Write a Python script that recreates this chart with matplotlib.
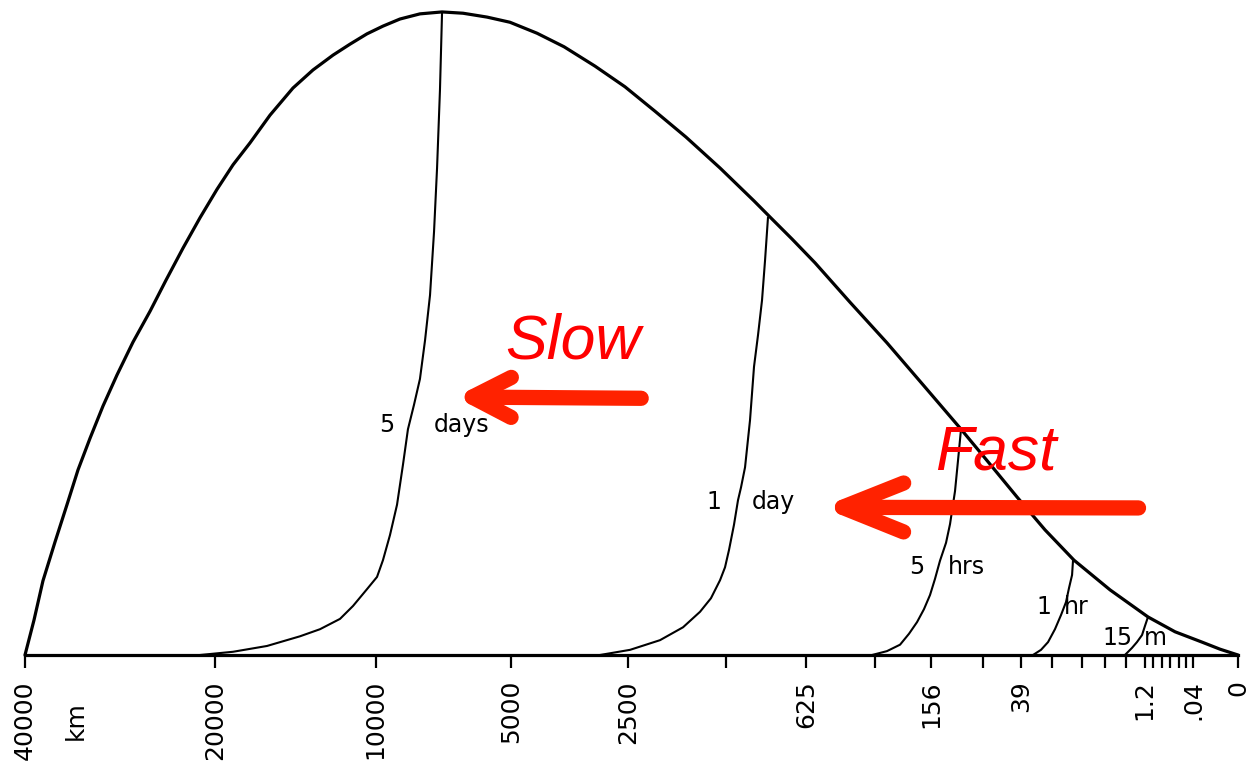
import matplotlib
matplotlib.use("Agg")
import matplotlib.pyplot as plt

# horizontal axis: position along the halving scale (0 = 40000 km, 100 = 0 km)
tick_pos = [0, 15.7, 28.9, 40.1, 49.7, 57.8, 64.4, 70.1, 74.7, 79.0, 82.1, 84.7,
            87.1, 89.0, 90.8, 92.3, 93.0, 93.7, 94.4, 95.1, 95.7, 96.3, 100]
tick_lbl = ['40000', '20000', '10000', '5000', '2500', '', '625', '', '156', '', '39', '',
            '', '', '', '1.2', '', '', '', '', '', '.04', '0']

# total spectrum envelope
env_x = [0, 0.74, 1.48, 2.47, 3.46, 4.37, 5.36, 6.43, 7.58, 8.90, 10.31, 11.62, 13.03,
         14.43, 15.83, 17.15, 18.55, 20.20, 22.09, 23.74, 25.39, 26.79, 28.19, 29.51,
         30.91, 32.56, 34.38, 36.11, 38.09, 39.98, 42.21, 44.44, 46.99, 49.46, 51.94,
         54.49, 57.30, 60.10, 61.42, 63.23, 65.13, 68.01, 71.06, 74.03, 77.08, 79.55,
         81.78, 84.09, 86.48, 89.45, 92.58, 94.81, 97.03, 98.52, 100]
env_y = [0, 5.4, 11.5, 17.5, 23.3, 28.7, 33.6, 38.6, 43.4, 48.5, 53.3, 58.1, 63.1,
         67.8, 72.2, 76.0, 79.4, 83.7, 87.9, 90.7, 93.0, 94.7, 96.3, 97.5,
         98.6, 99.4, 99.7, 99.5, 98.9, 98.1, 96.4, 94.3, 91.3, 88.1, 84.3,
         80.3, 75.5, 70.4, 67.9, 64.5, 60.8, 54.7, 48.4, 41.9, 35.2, 29.6,
         24.5, 19.4, 14.7, 10.1, 5.9, 3.6, 2.0, 0.9, 0]

# error spectrum after each lead time
days5_x = [34.38, 34.21, 33.97, 33.72, 33.39, 32.98, 32.56, 32.07, 31.57, 31.16, 30.67,
           30.09, 29.51, 29.02, 28.19, 27.04, 25.97, 24.32, 22.67, 19.95, 17.15, 14.43]
days5_y = [99.5, 87.6, 75.5, 65.6, 55.8, 48.8, 42.8, 38.8, 35.0, 29.5, 23.3,
           18.6, 14.7, 12.1, 10.2, 7.6, 5.6, 4.0, 2.9, 1.4, 0.5, 0]
day1_x = [61.25, 61.01, 60.76, 60.43, 60.10, 59.77, 59.36, 59.03, 58.78, 58.45, 58.04,
          57.71, 57.30, 56.55, 55.65, 54.25, 52.35, 49.88, 47.40]
day1_y = [67.8, 61.2, 55.0, 49.6, 44.7, 36.4, 29.1, 26.0, 24.0, 20.2, 16.3,
          13.6, 11.6, 8.8, 6.7, 4.3, 2.3, 0.8, 0]
hrs5_x = [77.16, 76.92, 76.67, 76.26, 75.93, 75.43, 75.02, 74.61, 74.11, 73.54, 72.88,
          72.14, 71.06, 69.83]
hrs5_y = [34.9, 30.2, 25.4, 20.3, 17.4, 14.6, 11.8, 9.3, 7.1, 5.1, 3.3, 1.6, 0.6, 0]
hr1_x = [86.40, 86.32, 86.07, 85.82, 85.41, 84.91, 84.34, 83.76, 83.10]
hr1_y = [14.7, 12.4, 10.4, 8.2, 6.2, 4.0, 2.0, 0.8, 0]
min15_x = [92.58, 92.33, 92.09, 91.67, 91.26, 90.68]
min15_y = [5.9, 4.5, 3.1, 2.0, 1.1, 0]

# curve labels: (left part, right part, x left, x right, y)
curve_labels = [('5', 'days', 29.8, 36.0, 35.7),
                ('1', 'day', 56.8, 61.7, 23.7),
                ('5', 'hrs', 73.5, 77.6, 13.6),
                ('1', 'hr', 84.0, 86.7, 7.4),
                ('15', 'm', 90.1, 93.2, 2.7)]

fig = plt.figure(figsize=(12.49, 7.78), dpi=100)
ax = fig.add_axes([25 / 1249, 123 / 778, 1213 / 1249, 645 / 778])

ax.plot(env_x, env_y, color='black', lw=2.3, clip_on=False,
        solid_capstyle='round', solid_joinstyle='round')
for xs, ys in [(days5_x, days5_y), (day1_x, day1_y), (hrs5_x, hrs5_y),
               (hr1_x, hr1_y), (min15_x, min15_y)]:
    ax.plot(xs, ys, color='black', lw=1.5, clip_on=False, solid_joinstyle='round')

for a, b, xa, xb, y in curve_labels:
    ax.text(xa, y, a, fontsize=17, ha='center', va='center')
    ax.text(xb, y, b, fontsize=17, ha='center', va='center')

# red annotations
red_txt = '#ff0000'
red_arr = '#ff2200'
ax.text(39.6, 46.0, 'Slow', color=red_txt, fontsize=45, style='italic',
        family='Liberation Sans', ha='left', va='baseline')
ax.text(75.0, 28.7, 'Fast', color=red_txt, fontsize=45, style='italic',
        family='Liberation Sans', ha='left', va='baseline')
ax.annotate('', xy=(35.5, 40.0), xytext=(50.8, 39.8),
            arrowprops=dict(arrowstyle='->,head_length=1.4,head_width=0.72',
                            lw=11, color=red_arr, mutation_scale=20,
                            shrinkA=0, shrinkB=0, capstyle='round', joinstyle='round'))
ax.annotate('', xy=(65.7, 22.9), xytext=(91.8, 22.8),
            arrowprops=dict(arrowstyle='->,head_length=2.2,head_width=0.88',
                            lw=11, color=red_arr, mutation_scale=20,
                            shrinkA=0, shrinkB=0, capstyle='round', joinstyle='round'))

ax.set_xlim(0, 100)
ax.set_ylim(0, 100)
for side in ['left', 'right', 'top']:
    ax.spines[side].set_visible(False)
ax.spines['bottom'].set_linewidth(2.3)
ax.set_yticks([])
ax.set_xticks(tick_pos)
ax.set_xticklabels(tick_lbl, rotation=90, fontsize=18, va='top')
ax.tick_params(axis='x', direction='out', length=9, width=1.6, pad=9)
ax.text(4.2, -10.2, 'km', fontsize=18, rotation=90, ha='center', va='center',
        clip_on=False)

fig.savefig('out.png', dpi=100)
